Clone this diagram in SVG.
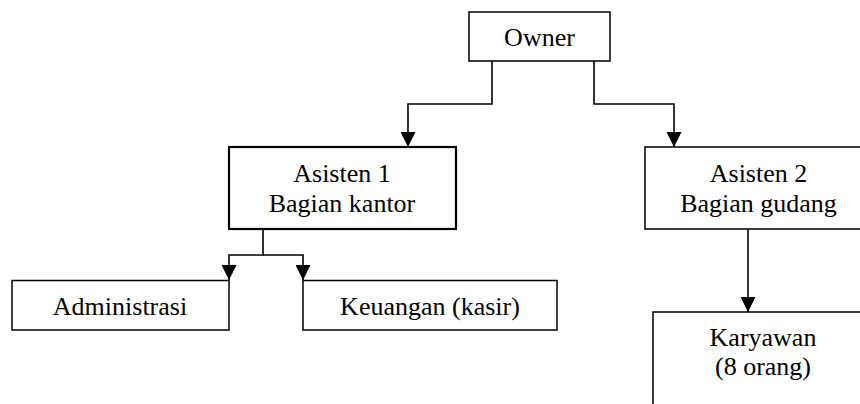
<svg xmlns="http://www.w3.org/2000/svg" width="860" height="404" viewBox="0 0 860 404">
<style>
.box{fill:#fff;stroke:#000;stroke-width:1.5}
.thick{stroke-width:2.2}
text{font-family:'Liberation Serif','Times New Roman',serif;font-size:26px;fill:#000;text-anchor:middle}
.c{fill:none;stroke:#000;stroke-width:1.6}
</style>
<defs>
<marker id="arr" markerUnits="userSpaceOnUse" markerWidth="15" markerHeight="15" viewBox="0 0 15 15" refX="15" refY="7.5" orient="auto">
<path d="M0,0 L15,7.5 L0,15 z" fill="#000"/>
</marker>
</defs>
<rect width="860" height="404" fill="#fff"/>
<g id="connectors">
<path class="c" d="M492 61 V104 H408 V147" marker-end="url(#arr)"/>
<path class="c" d="M594 61 V104 H674 V147" marker-end="url(#arr)"/>
<path class="c" d="M263 229 V255 H229 V280" marker-end="url(#arr)"/>
<path class="c" d="M263 255 H303 V280" marker-end="url(#arr)"/>
<path class="c" d="M748 229 V312" marker-end="url(#arr)"/>
</g>
<g id="owner">
<rect class="box" x="469" y="12" width="141" height="49"/>
<text x="539.5" y="45.5">Owner</text>
</g>
<g id="asisten1">
<rect class="box thick" x="229" y="147" width="227" height="82"/>
<text x="342" y="182.3">Asisten 1</text>
<text x="342" y="211.7">Bagian kantor</text>
</g>
<g id="asisten2">
<rect class="box" x="645" y="147" width="226" height="82"/>
<text x="758.5" y="182.3">Asisten 2</text>
<text x="758.5" y="211.7">Bagian gudang</text>
</g>
<g id="administrasi">
<rect class="box" x="12" y="280.5" width="217" height="49.5"/>
<text x="120" y="315">Administrasi</text>
</g>
<g id="keuangan">
<rect class="box" x="303" y="280.5" width="254" height="49.5"/>
<text x="430" y="315">Keuangan (kasir)</text>
</g>
<g id="karyawan">
<rect class="box" x="653" y="312" width="220" height="110"/>
<text x="763" y="345.7">Karyawan</text>
<text x="763" y="375">(8 orang)</text>
</g>
</svg>
